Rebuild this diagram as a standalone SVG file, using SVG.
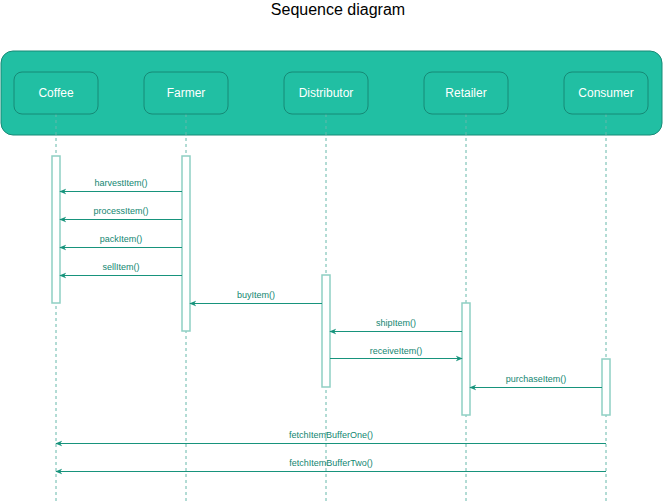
<svg xmlns="http://www.w3.org/2000/svg" width="663" height="501" viewBox="0 0 663 501">
<defs>
<style>
.title{font-family:"Liberation Sans",Arial,sans-serif;font-size:16px;fill:#000;text-anchor:middle}
.box{fill:#21bfa3;stroke:#178a76;stroke-width:1}
.name{font-family:"Liberation Sans",Arial,sans-serif;font-size:12px;fill:#fff;text-anchor:middle}
.life{stroke:#67b8aa;stroke-width:1;stroke-dasharray:3 3;fill:none}
.act{fill:#fff;stroke:#8fcfc3;stroke-width:1.5}
.msg{stroke:#17937c;stroke-width:1;fill:none;marker-end:url(#ah)}
.lbl{font-family:"Liberation Sans",Arial,sans-serif;font-size:9px;fill:#128671;text-anchor:middle}
</style>
<marker id="ah" viewBox="0 0 10 10" refX="9" refY="5" markerWidth="7" markerHeight="7" orient="auto" markerUnits="userSpaceOnUse">
<path d="M0,1 L10,5 L0,9 L3,5 Z" fill="#17937c"/>
</marker>
</defs>
<rect width="663" height="501" fill="#fff"/>
<text class="title" x="338" y="15">Sequence diagram</text>
<rect class="box" x="1" y="51" width="661" height="84" rx="12"/>
<g id="lifelines">
<line class="life" x1="56" y1="114" x2="56" y2="501"/>
<line class="life" x1="186" y1="114" x2="186" y2="501"/>
<line class="life" x1="326" y1="114" x2="326" y2="501"/>
<line class="life" x1="466" y1="114" x2="466" y2="501"/>
<line class="life" x1="606" y1="114" x2="606" y2="501"/>
</g>
<g id="coffee"><rect class="box" x="14" y="72" width="84" height="42" rx="8"/><text class="name" x="56" y="97">Coffee</text><rect class="act" x="52" y="156" width="8" height="147"/></g>
<g id="farmer"><rect class="box" x="144" y="72" width="84" height="42" rx="8"/><text class="name" x="186" y="97">Farmer</text><rect class="act" x="182" y="156" width="8" height="175"/></g>
<g id="distributor"><rect class="box" x="284" y="72" width="84" height="42" rx="8"/><text class="name" x="326" y="97">Distributor</text><rect class="act" x="322" y="275" width="8" height="112"/></g>
<g id="retailer"><rect class="box" x="424" y="72" width="84" height="42" rx="8"/><text class="name" x="466" y="97">Retailer</text><rect class="act" x="462" y="303" width="8" height="112"/></g>
<g id="consumer"><rect class="box" x="564" y="72" width="84" height="42" rx="8"/><text class="name" x="606" y="97">Consumer</text><rect class="act" x="602" y="359" width="8" height="56"/></g>
<g id="connectors">
<line class="msg" x1="182" y1="191.5" x2="60" y2="191.5"/>
<text class="lbl" x="121" y="186">harvestItem()</text>
<line class="msg" x1="182" y1="219.5" x2="60" y2="219.5"/>
<text class="lbl" x="121" y="214">processItem()</text>
<line class="msg" x1="182" y1="247.5" x2="60" y2="247.5"/>
<text class="lbl" x="121" y="242">packItem()</text>
<line class="msg" x1="182" y1="275.5" x2="60" y2="275.5"/>
<text class="lbl" x="121" y="270">sellItem()</text>
<line class="msg" x1="322" y1="303.5" x2="190" y2="303.5"/>
<text class="lbl" x="256" y="298">buyItem()</text>
<line class="msg" x1="462" y1="331.5" x2="330" y2="331.5"/>
<text class="lbl" x="396" y="326">shipItem()</text>
<line class="msg" x1="330" y1="358.5" x2="462" y2="358.5"/>
<text class="lbl" x="396" y="354">receiveItem()</text>
<line class="msg" x1="602" y1="387.5" x2="470" y2="387.5"/>
<text class="lbl" x="536" y="382">purchaseItem()</text>
<line class="msg" x1="606" y1="443.5" x2="56" y2="443.5"/>
<text class="lbl" x="331" y="438">fetchItemBufferOne()</text>
<line class="msg" x1="606" y1="471.5" x2="56" y2="471.5"/>
<text class="lbl" x="331" y="466">fetchItemBufferTwo()</text>
</g>
</svg>
